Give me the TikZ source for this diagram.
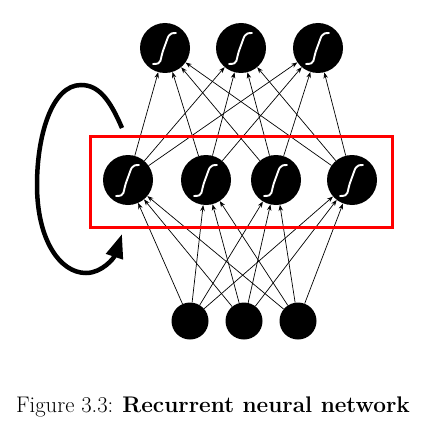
\documentclass[tikz,border=0pt]{standalone}
\usetikzlibrary{arrows.meta}
\begin{document}
\begin{tikzpicture}[x=1pt,y=-1pt,
  neuron/.style={circle, fill=black, inner sep=0pt, minimum size=50pt},
  sigmoid/.style={neuron, path picture={
      \draw[white, line width=1.9pt, line cap=round]
        ([shift={(-12pt,-16pt)}]path picture bounding box.center)
        .. controls +(10pt,0pt) and +(-5pt,-13pt) .. ([shift={(-1pt,0pt)}]path picture bounding box.center)
        .. controls +(5pt,13pt) and +(-8pt,0pt) .. ([shift={(11pt,15pt)}]path picture bounding box.center);}},
  inputunit/.style={neuron, minimum size=37pt},
  link/.style={-{Stealth[length=6pt,width=4.5pt]}, line width=0.7pt},
  recur/.style={line width=4.5pt, -{Triangle[length=24pt,width=17pt]}},
  hiddenbox/.style={draw=red, line width=3pt}]
\useasboundingbox (0,0) rectangle (438,433);

% output layer
\node[sigmoid] (t1) at (165,48) {};
\node[sigmoid] (t2) at (241,48) {};
\node[sigmoid] (t3) at (318,48) {};
% hidden (recurrent) layer
\node[sigmoid] (h1) at (128,180) {};
\node[sigmoid] (h2) at (206,180) {};
\node[sigmoid] (h3) at (276,180) {};
\node[sigmoid] (h4) at (352,180) {};
% input layer
\node[inputunit] (i1) at (190,321) {};
\node[inputunit] (i2) at (244,321) {};
\node[inputunit] (i3) at (298,321) {};

% fully connected weights
\foreach \a in {i1,i2,i3}
  \foreach \b in {h1,h2,h3,h4}
    \draw[link] (\a) -- (\b);
\foreach \a in {h1,h2,h3,h4}
  \foreach \b in {t1,t2,t3}
    \draw[link] (\a) -- (\b);

% hidden layer frame
\node[hiddenbox, minimum width=302pt, minimum height=91pt, inner sep=0pt] (frame) at (241,181.5) {};

% recurrent loop
\coordinate (loopstart) at (122,128);
\coordinate (loopend) at (122,234);
\draw[recur] (loopstart) .. controls (110,100) and (99,85) .. (81,85)
  .. controls (52,85) and (37,135) .. (37,185)
  .. controls (37,240) and (60,273) .. (86,273)
  .. controls (102,273) and (114,258) .. (loopend);

% caption
\node[anchor=base, font=\fontsize{22.6}{27}\selectfont, inner sep=0pt] (caption) at (213,412)
  {Figure 3.3: \textbf{Recurrent neural network}};
\end{tikzpicture}
\end{document}
